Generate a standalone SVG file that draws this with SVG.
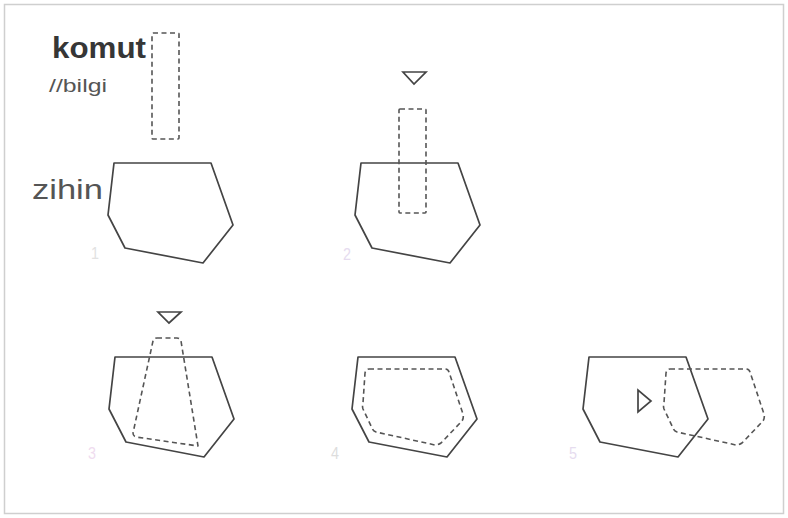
<svg xmlns="http://www.w3.org/2000/svg" width="788" height="518" viewBox="0 0 788 518">
<style>
.solid{fill:none;stroke:#444;stroke-width:1.7;stroke-linejoin:round}
.dash{fill:none;stroke:#555;stroke-width:1.6;stroke-dasharray:5 3.5;stroke-linejoin:round}
.tri{fill:none;stroke:#444;stroke-width:1.7;stroke-linejoin:miter}
.num{font-family:"Liberation Sans",Arial,sans-serif;font-size:17px}
</style>
<defs>
<polygon id="mind" points="114,163 211,163 233,225 203,263 125,248 108,215"/>
<path id="inner" d="M369,369 L445,369 Q448,369 449,372 L463,414 Q464,418 462,421 L441,443 Q438,445 435,445 L376,432 Q373,431 372,428 L363,409 Q362,406 363,403 L365,373 Q366,369 369,369 Z"/>
</defs>
<rect x="4.5" y="4.5" width="779" height="509" fill="#fff" stroke="#cfcfcf" stroke-width="1.5"/>

<g id="panel1">
<text x="52" y="58" font-family="Liberation Sans,Arial,sans-serif" font-size="29" font-weight="bold" fill="#363636" textLength="94" lengthAdjust="spacingAndGlyphs">komut</text>
<text x="49" y="92" font-family="Liberation Sans,Arial,sans-serif" font-size="19" fill="#555" textLength="58" lengthAdjust="spacingAndGlyphs">//bilgi</text>
<rect class="dash" x="152" y="33" width="27" height="106" rx="1"/>
<text x="32" y="199" font-family="Liberation Sans,Arial,sans-serif" font-size="28" fill="#555" textLength="71" lengthAdjust="spacingAndGlyphs">zihin</text>
<use href="#mind" class="solid"/>
<text class="num" x="91" y="259" fill="#e2e2e2" textLength="8" lengthAdjust="spacingAndGlyphs">1</text>
</g>

<g id="panel2">
<polygon class="tri" points="403,72 426,72 414,84"/>
<use href="#mind" class="solid" transform="translate(247,0)"/>
<rect class="dash" x="399" y="109" width="27" height="104" rx="1"/>
<text class="num" x="343" y="260" fill="#e6dcef" textLength="8" lengthAdjust="spacingAndGlyphs">2</text>
</g>

<g id="panel3">
<polygon class="tri" points="158,312 181,312 169,323"/>
<use href="#mind" class="solid" transform="translate(1,194)"/>
<path class="dash" d="M157,338 L177,338 Q180,338 181,341 L198,446 L136,437 Q133,436 133,433 L153,341 Q154,338 157,338 Z"/>
<text class="num" x="88" y="459" fill="#efdcef" textLength="8" lengthAdjust="spacingAndGlyphs">3</text>
</g>

<g id="panel4">
<use href="#mind" class="solid" transform="translate(244,194)"/>
<use href="#inner" class="dash"/>
<text class="num" x="331" y="459" fill="#dddddd" textLength="8" lengthAdjust="spacingAndGlyphs">4</text>
</g>

<g id="panel5">
<use href="#mind" class="solid" transform="translate(475,194)"/>
<polygon class="tri" points="638,390 638,412 651,401"/>
<use href="#inner" class="dash" transform="translate(301,0)"/>
<text class="num" x="569" y="459" fill="#e6dcef" textLength="8" lengthAdjust="spacingAndGlyphs">5</text>
</g>

<g id="connectors"></g>
</svg>
